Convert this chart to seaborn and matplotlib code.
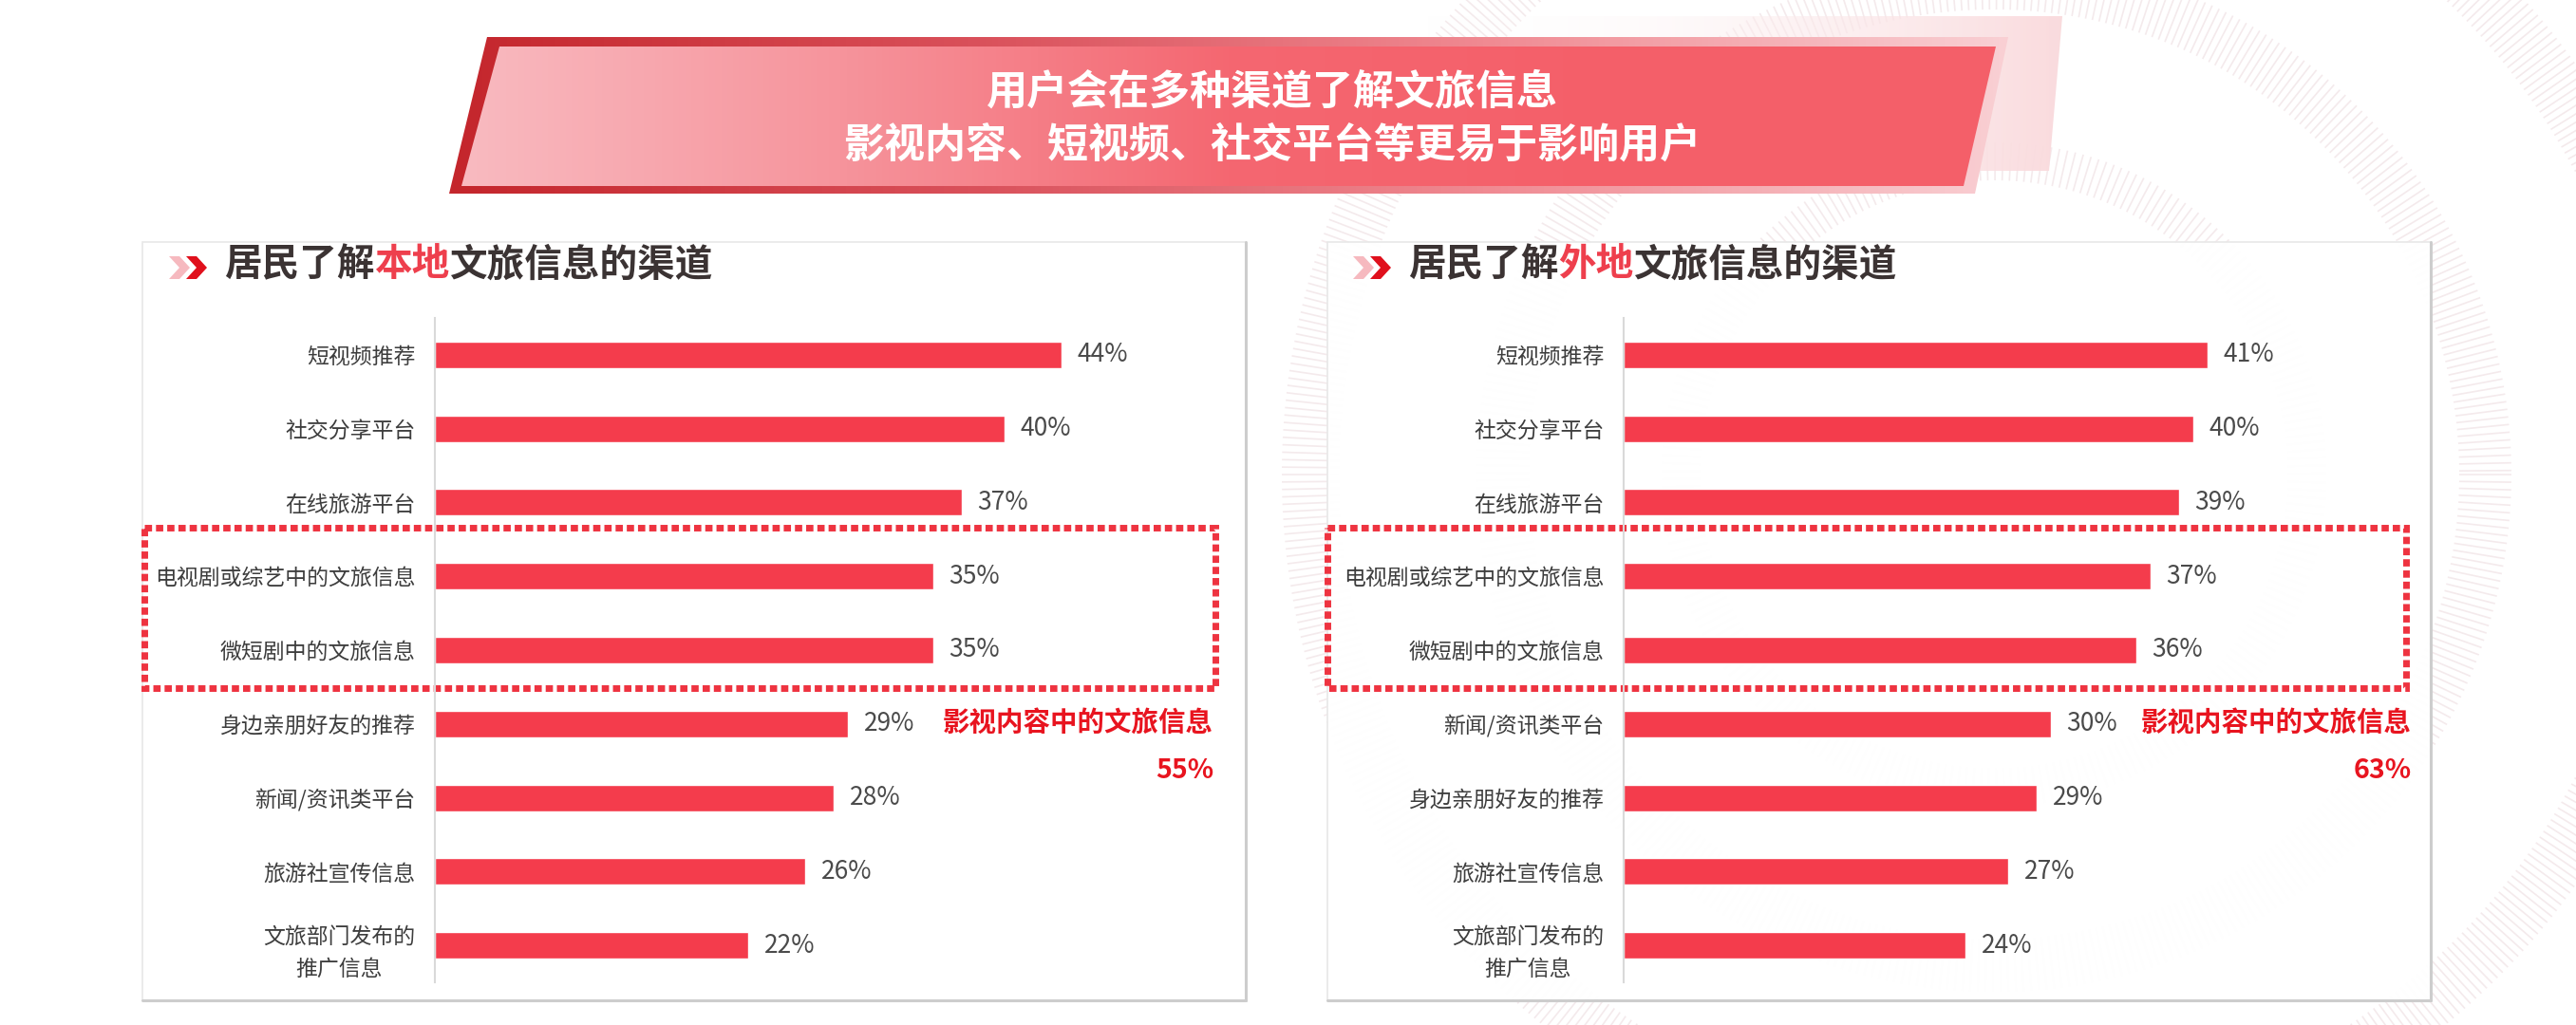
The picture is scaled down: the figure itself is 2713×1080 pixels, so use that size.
import numpy as np
import pandas as pd
import matplotlib
matplotlib.use("Agg")
import matplotlib.pyplot as plt
import seaborn as sns
from matplotlib.patches import Polygon, Rectangle
from matplotlib.collections import LineCollection
from matplotlib.colors import LinearSegmentedColormap

# DATA
local_channels = ["短视频推荐", "社交分享平台", "在线旅游平台", "电视剧或综艺中的文旅信息",
                  "微短剧中的文旅信息", "身边亲朋好友的推荐", "新闻/资讯类平台", "旅游社宣传信息",
                  "文旅部门发布的\n推广信息"]
local_pct = [44, 40, 37, 35, 35, 29, 28, 26, 22]

remote_channels = ["短视频推荐", "社交分享平台", "在线旅游平台", "电视剧或综艺中的文旅信息",
                   "微短剧中的文旅信息", "新闻/资讯类平台", "身边亲朋好友的推荐", "旅游社宣传信息",
                   "文旅部门发布的\n推广信息"]
remote_pct = [41, 40, 39, 37, 36, 30, 29, 27, 24]

headline = ["用户会在多种渠道了解文旅信息", "影视内容、短视频、社交平台等更易于影响用户"]
panel_titles = [("居民了解", "本地", "文旅信息的渠道"), ("居民了解", "外地", "文旅信息的渠道")]
highlight_label = "影视内容中的文旅信息"
highlight_pct = ["55%", "63%"]

# STYLE
sns.set_theme(style="white")
plt.rcParams["font.family"] = ["Noto Sans CJK SC", "DejaVu Sans"]

W, H = 2713, 1080
BAR_RED = "#f43c4c"
TEXT_RED = "#e8141f"

fig = plt.figure(figsize=(W / 100, H / 100), dpi=100)
fig.patch.set_facecolor("white")

# background canvas in pixel coordinates (y down)
bg = fig.add_axes([0, 0, 1, 1], zorder=0)
bg.axis("off")


def gradient_poly(ax, pts, stops, zorder):
    poly = Polygon(pts, closed=True, facecolor="none", edgecolor="none", zorder=zorder)
    ax.add_patch(poly)
    xs = [p[0] for p in pts]
    ys = [p[1] for p in pts]
    cmap = LinearSegmentedColormap.from_list("g", stops)
    grad = np.linspace(0, 1, 256).reshape(1, -1)
    im = ax.imshow(grad, cmap=cmap, extent=(min(xs), max(xs), max(ys), min(ys)),
                   aspect="auto", zorder=zorder, interpolation="bilinear")
    im.set_clip_path(poly)


# faint radial tick rings
cx, cy = 2100, 500
segs = []
for r, length, step in [(310, 40, 1.4), (490, 55, 0.85), (690, 60, 0.6)]:
    for a in np.deg2rad(np.arange(0, 360, step)):
        segs.append([(cx + r * np.cos(a), cy + r * np.sin(a)),
                     (cx + (r + length) * np.cos(a), cy + (r + length) * np.sin(a))])
bg.add_collection(LineCollection(segs, colors="#f4eaec", linewidths=1.2, zorder=0))

# panels
for px0 in (150, 1398):
    px1 = px0 + 1162
    bg.add_patch(Rectangle((px0, 255), px1 - px0, 799, facecolor=(1, 1, 1, 0.97),
                           edgecolor="#e8e8e8", lw=1.2, zorder=1))
    bg.plot([px1, px1], [255, 1054], color="#cdcdcd", lw=2.2, zorder=1.5)
    bg.plot([px0, px1], [1054, 1054], color="#cdcdcd", lw=2.2, zorder=1.5)

# headline banner
gradient_poly(bg, [(1500, 17), (2172, 17), (2158, 180), (1500, 180)],
              [(1, 1, 1, 0), (0.98, 0.86, 0.87, 1)], 2)
gradient_poly(bg, [(513, 39), (2115, 39), (2080, 204), (473, 204)],
              ["#c4262c", "#d9505a", "#f08a92", "#f9cfd3"], 2.1)
gradient_poly(bg, [(526, 49), (2102, 49), (2068, 196), (486, 196)],
              ["#f9bac0", "#f6939b", "#f46771", "#f45f69", "#f45f69"], 2.2)
bg.text(1340, 97, headline[0], color="white", fontsize=31, fontweight="bold",
        ha="center", va="center", zorder=3)
bg.text(1340, 153, headline[1], color="white", fontsize=31, fontweight="bold",
        ha="center", va="center", zorder=3)


def chevron(ax, x0, yc, color):
    w, h, t = 22, 24, 11
    pts = [(x0, yc - h / 2), (x0 + t, yc - h / 2), (x0 + w, yc),
           (x0 + t, yc + h / 2), (x0, yc + h / 2), (x0 + w - t, yc)]
    ax.add_patch(Polygon(pts, closed=True, facecolor=color, edgecolor="none", zorder=3))


# panel titles
char_w = 28.5 * 100 / 72
for (a, b, c), tx in zip(panel_titles, (236, 1483)):
    chevron(bg, tx - 58, 282, "#f6b9bf")
    chevron(bg, tx - 40, 282, "#e0101c")
    kw = dict(fontsize=28.5, fontweight="bold", ha="left", va="center", zorder=3)
    bg.text(tx, 279, a, color="#3b3333", **kw)
    bg.text(tx + len(a) * char_w, 279, b, color="#ee3f4d", **kw)
    bg.text(tx + (len(a) + len(b)) * char_w, 279, c, color="#3b3333", **kw)

# highlight boxes and notes
for (bx0, bx1), note_x, pct_txt in zip([(152, 1280), (1398, 2534)], (1278, 2540), highlight_pct):
    bg.add_patch(Rectangle((bx0, 556), bx1 - bx0, 169, fill=False, edgecolor="#ee3340",
                           lw=5, linestyle=(0, (1.1, 0.6)), zorder=3))
    bg.text(note_x, 762, highlight_label, color=TEXT_RED, fontsize=20.5, fontweight="bold",
            ha="right", va="center", zorder=3)
    bg.text(note_x, 812, pct_txt, color=TEXT_RED, fontsize=20.5, fontweight="bold",
            ha="right", va="center", zorder=3)

bg.set_xlim(0, W)
bg.set_ylim(H, 0)


def draw_panel(x0, channels, pct):
    x1, y0, y1 = x0 + 825, 335, 1035
    ax = fig.add_axes([x0 / W, 1 - y1 / H, (x1 - x0) / W, (y1 - y0) / H], zorder=2)
    ax.patch.set_alpha(0)
    df = pd.DataFrame({"channel": channels, "pct": pct})
    sns.barplot(data=df, x="pct", y="channel", orient="h", color=BAR_RED,
                saturation=1, width=0.36, ax=ax)
    ax.bar_label(ax.containers[0], labels=[f"{v}%" for v in pct], padding=12,
                 fontsize=19, color="#4a4a4a")
    ax.set_xlim(0, 55)
    ax.set_ylim(8.5, -0.5)
    ax.set_xlabel("")
    ax.set_ylabel("")
    ax.set_xticks([])
    ax.tick_params(axis="y", length=0, pad=15, labelsize=16.5, labelcolor="#3d3d3d")
    for lbl in ax.get_yticklabels():
        lbl.set_multialignment("center")
        lbl.set_linespacing(1.6)
    for side in ("top", "right", "bottom"):
        ax.spines[side].set_visible(False)
    ax.spines["left"].set_color("#d9d9d9")
    ax.spines["left"].set_linewidth(1.5)
    return ax


draw_panel(458, local_channels, local_pct)
draw_panel(1710, remote_channels, remote_pct)

fig.savefig("out.png", dpi=100)
